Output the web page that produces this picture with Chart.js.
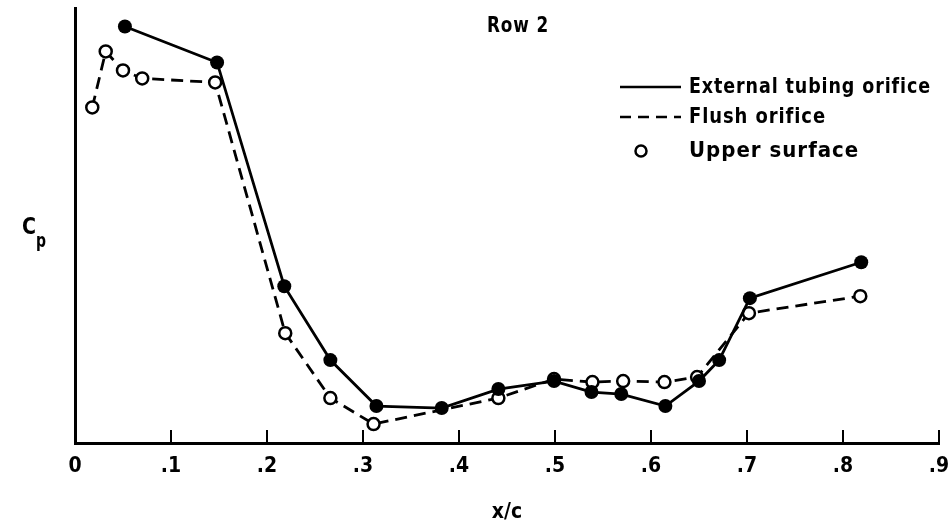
<!DOCTYPE html>
<html>
<head>
<meta charset="utf-8">
<script src="https://cdn.jsdelivr.net/npm/chart.js@4/dist/chart.umd.min.js"></script>
<style>
  html, body { margin: 0; padding: 0; background: #fff; }
  #wrap { width: 952px; height: 529px; position: relative; }
</style>
</head>
<body>
<div id="wrap"><canvas id="c" width="952" height="529"></canvas></div>
<script>
// ---- data ----
const xTickLabels = ['0', '.1', '.2', '.3', '.4', '.5', '.6', '.7', '.8', '.9'];

// External tubing orifice (solid line, filled symbols)
const externalX  = [0.052, 0.148, 0.218, 0.266, 0.314, 0.382, 0.441, 0.499, 0.538, 0.569, 0.615, 0.650, 0.671, 0.703, 0.819];
const externalCp = [4.17, 3.81, 1.57, 0.83, 0.37, 0.35, 0.54, 0.62, 0.51, 0.49, 0.37, 0.62, 0.83, 1.45, 1.81];

// Flush orifice (dashed line, open symbols)
const flushX  = [0.018, 0.032, 0.050, 0.070, 0.146, 0.219, 0.266, 0.311, 0.441, 0.499, 0.539, 0.571, 0.614, 0.648, 0.702, 0.818];
const flushCp = [3.36, 3.92, 3.73, 3.65, 3.61, 1.10, 0.45, 0.19, 0.45, 0.64, 0.61, 0.62, 0.61, 0.66, 1.30, 1.47];

const chartTitle = 'Row 2';
const legendLabels = ['External tubing orifice', 'Flush orifice', 'Upper surface'];
const xTitle = 'x/c';

const FONT = "'DejaVu Sans Condensed', 'DejaVu Sans', sans-serif";

function pts(xs, ys) { return xs.map((x, i) => ({ x: x, y: ys[i] })); }

// draw lettering with a small fixed letter spacing, condensed to fit the given width
function fitText(ctx, text, x, y, width, align, spacing) {
  ctx.save();
  ctx.letterSpacing = spacing + 'px';
  const w = ctx.measureText(text).width;
  const sx = Math.min(1, width / w);
  const left = align === 'center' ? x - width / 2 : x;
  ctx.translate(left, y);
  ctx.scale(sx, 1);
  ctx.textAlign = 'left';
  ctx.fillText(text, 0, 0);
  ctx.restore();
}

const annotations = {
  id: 'annotations',
  afterDraw(chart) {
    const ctx = chart.ctx;
    ctx.save();
    ctx.fillStyle = '#000';
    ctx.strokeStyle = '#000';
    ctx.textBaseline = 'middle';
    // title inside plot
    ctx.font = "bold 22px " + FONT;
    fitText(ctx, chartTitle, 518, 26, 62, 'center', 1);

    // legend
    const lx0 = 620, lx1 = 681, tx = 689;
    const rows = [87, 117, 151];
    ctx.lineWidth = 2.5;
    ctx.setLineDash([]);
    ctx.beginPath(); ctx.moveTo(lx0, rows[0]); ctx.lineTo(lx1, rows[0]); ctx.stroke();
    ctx.setLineDash([11, 7]);
    ctx.beginPath(); ctx.moveTo(lx0, rows[1]); ctx.lineTo(lx1, rows[1]); ctx.stroke();
    ctx.setLineDash([]);
    ctx.beginPath(); ctx.arc(641, rows[2], 5.5, 0, Math.PI * 2);
    ctx.fillStyle = '#fff'; ctx.fill(); ctx.stroke();
    ctx.fillStyle = '#000';
    ctx.font = "bold 22px " + FONT;
    const widths = [242, 137, 172];
    legendLabels.forEach((t, i) => fitText(ctx, t, tx, rows[i], widths[i], 'left', 1));

    // y axis label C_p
    ctx.font = "bold 23px " + FONT;
    fitText(ctx, 'C', 22, 228, 14, 'left', 0);
    ctx.font = "bold 19px " + FONT;
    fitText(ctx, 'p', 36, 242, 10, 'left', 0);
    ctx.restore();
  }
};

new Chart(document.getElementById('c'), {
  type: 'line',
  data: {
    datasets: [
      {
        label: legendLabels[0],
        data: pts(externalX, externalCp),
        borderColor: '#000',
        borderWidth: 2.8,
        pointRadius: 7,
        pointBackgroundColor: '#000',
        pointBorderColor: '#000',
        pointBorderWidth: 0,
        tension: 0,
        fill: false
      },
      {
        label: legendLabels[1],
        data: pts(flushX, flushCp),
        borderColor: '#000',
        borderWidth: 2.8,
        borderDash: [12, 7],
        pointRadius: 6,
        pointBackgroundColor: '#fff',
        pointBorderColor: '#000',
        pointBorderWidth: 2.5,
        tension: 0,
        fill: false
      }
    ]
  },
  options: {
    responsive: false,
    animation: false,
    devicePixelRatio: 1,
    layout: { padding: { top: 3, right: 13, bottom: 0, left: 0 } },
    plugins: { legend: { display: false }, tooltip: { enabled: false }, title: { display: false } },
    scales: {
      x: {
        type: 'linear',
        min: 0, max: 0.9,
        afterFit(s) { s.height = 86; s.paddingLeft = 0; s.paddingRight = 0; },
        afterBuildTicks(s) { s.ticks = xTickLabels.map((_, i) => ({ value: i / 10 })); },
        ticks: {
          color: '#000',
          padding: 24,
          maxRotation: 0,
          autoSkip: false,
          font: { family: FONT, size: 21, weight: 'bold' },
          callback: (v, i) => xTickLabels[i]
        },
        grid: { drawOnChartArea: false, drawTicks: true, tickLength: -13, color: '#000', lineWidth: 2 },
        border: { display: true, color: '#000', width: 3 },
        title: {
          display: true, text: xTitle, color: '#000',
          font: { family: FONT, size: 21, weight: 'bold' },
          padding: { top: 0, bottom: 4 }
        }
      },
      y: {
        type: 'linear',
        min: 0, max: 4.35,
        afterFit(s) { s.width = 75; },
        ticks: { display: false },
        grid: { display: false, drawTicks: false },
        border: { display: true, color: '#000', width: 3 }
      }
    }
  },
  plugins: [annotations]
});
</script>
</body>
</html>
